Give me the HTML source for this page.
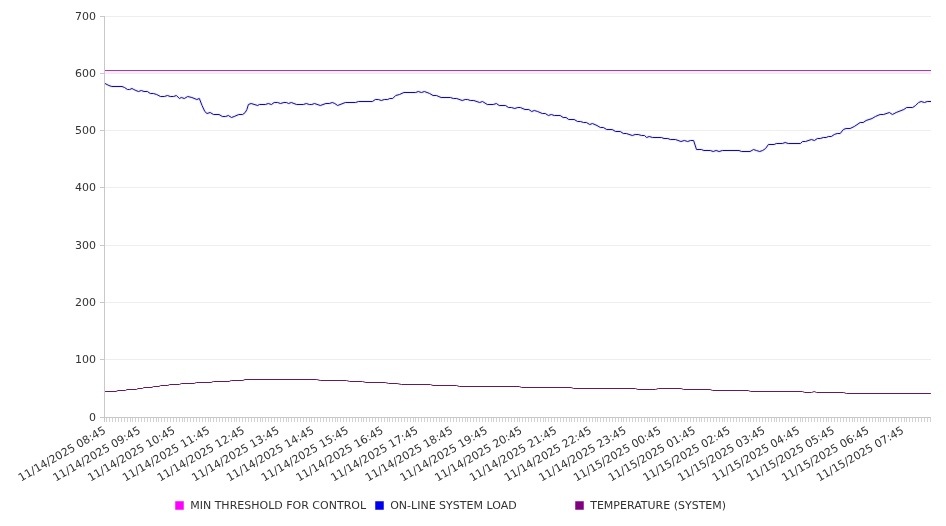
<!DOCTYPE html>
<html><head><meta charset="utf-8"><title>Chart</title>
<style>html,body{margin:0;padding:0;background:#fff}svg{display:block}text{font-family:"DejaVu Sans","Liberation Sans",sans-serif;font-size:11px;fill:#323232}</style></head>
<body>
<svg width="946" height="526" viewBox="0 0 946 526">
<rect width="946" height="526" fill="#fff"/>
<g stroke="#eeeeee" stroke-width="1" shape-rendering="crispEdges">
<line x1="105" x2="931" y1="359.5" y2="359.5"/>
<line x1="105" x2="931" y1="302.5" y2="302.5"/>
<line x1="105" x2="931" y1="245.5" y2="245.5"/>
<line x1="105" x2="931" y1="187.5" y2="187.5"/>
<line x1="105" x2="931" y1="130.5" y2="130.5"/>
<line x1="105" x2="931" y1="73.5" y2="73.5"/>
<line x1="105" x2="931" y1="16.5" y2="16.5"/>
</g>
<g stroke="#c8c8c8" stroke-width="1" shape-rendering="crispEdges">
<line x1="104.5" x2="104.5" y1="16" y2="422"/>
<line x1="104" x2="931" y1="417.5" y2="417.5"/>
<line x1="100" x2="104" y1="417.5" y2="417.5"/>
<line x1="100" x2="104" y1="359.5" y2="359.5"/>
<line x1="100" x2="104" y1="302.5" y2="302.5"/>
<line x1="100" x2="104" y1="245.5" y2="245.5"/>
<line x1="100" x2="104" y1="187.5" y2="187.5"/>
<line x1="100" x2="104" y1="130.5" y2="130.5"/>
<line x1="100" x2="104" y1="73.5" y2="73.5"/>
<line x1="100" x2="104" y1="16.5" y2="16.5"/>
<path d="M106.5 418v4M109.5 418v4M112.5 418v4M115.5 418v4M118.5 418v4M121.5 418v4M124.5 418v4M127.5 418v4M130.5 418v4M132.5 418v4M135.5 418v4M138.5 418v4M141.5 418v4M144.5 418v4M147.5 418v4M150.5 418v4M153.5 418v4M156.5 418v4M158.5 418v4M161.5 418v4M164.5 418v4M167.5 418v4M170.5 418v4M173.5 418v4M176.5 418v4M179.5 418v4M182.5 418v4M184.5 418v4M187.5 418v4M190.5 418v4M193.5 418v4M196.5 418v4M199.5 418v4M202.5 418v4M205.5 418v4M208.5 418v4M210.5 418v4M213.5 418v4M216.5 418v4M219.5 418v4M222.5 418v4M225.5 418v4M228.5 418v4M231.5 418v4M234.5 418v4M236.5 418v4M239.5 418v4M242.5 418v4M245.5 418v4M248.5 418v4M251.5 418v4M254.5 418v4M257.5 418v4M260.5 418v4M262.5 418v4M265.5 418v4M268.5 418v4M271.5 418v4M274.5 418v4M277.5 418v4M280.5 418v4M283.5 418v4M286.5 418v4M288.5 418v4M291.5 418v4M294.5 418v4M297.5 418v4M300.5 418v4M303.5 418v4M306.5 418v4M309.5 418v4M311.5 418v4M314.5 418v4M317.5 418v4M320.5 418v4M323.5 418v4M326.5 418v4M329.5 418v4M332.5 418v4M335.5 418v4M337.5 418v4M340.5 418v4M343.5 418v4M346.5 418v4M349.5 418v4M352.5 418v4M355.5 418v4M358.5 418v4M361.5 418v4M363.5 418v4M366.5 418v4M369.5 418v4M372.5 418v4M375.5 418v4M378.5 418v4M381.5 418v4M384.5 418v4M387.5 418v4M389.5 418v4M392.5 418v4M395.5 418v4M398.5 418v4M401.5 418v4M404.5 418v4M407.5 418v4M410.5 418v4M413.5 418v4M415.5 418v4M418.5 418v4M421.5 418v4M424.5 418v4M427.5 418v4M430.5 418v4M433.5 418v4M436.5 418v4M439.5 418v4M441.5 418v4M444.5 418v4M447.5 418v4M450.5 418v4M453.5 418v4M456.5 418v4M459.5 418v4M462.5 418v4M465.5 418v4M467.5 418v4M470.5 418v4M473.5 418v4M476.5 418v4M479.5 418v4M482.5 418v4M485.5 418v4M488.5 418v4M491.5 418v4M493.5 418v4M496.5 418v4M499.5 418v4M502.5 418v4M505.5 418v4M508.5 418v4M511.5 418v4M514.5 418v4M517.5 418v4M519.5 418v4M522.5 418v4M525.5 418v4M528.5 418v4M531.5 418v4M534.5 418v4M537.5 418v4M540.5 418v4M543.5 418v4M545.5 418v4M548.5 418v4M551.5 418v4M554.5 418v4M557.5 418v4M560.5 418v4M563.5 418v4M566.5 418v4M569.5 418v4M571.5 418v4M574.5 418v4M577.5 418v4M580.5 418v4M583.5 418v4M586.5 418v4M589.5 418v4M592.5 418v4M595.5 418v4M597.5 418v4M600.5 418v4M603.5 418v4M606.5 418v4M609.5 418v4M612.5 418v4M615.5 418v4M618.5 418v4M621.5 418v4M623.5 418v4M626.5 418v4M629.5 418v4M632.5 418v4M635.5 418v4M638.5 418v4M641.5 418v4M644.5 418v4M647.5 418v4M649.5 418v4M652.5 418v4M655.5 418v4M658.5 418v4M661.5 418v4M664.5 418v4M667.5 418v4M670.5 418v4M673.5 418v4M675.5 418v4M678.5 418v4M681.5 418v4M684.5 418v4M687.5 418v4M690.5 418v4M693.5 418v4M696.5 418v4M699.5 418v4M701.5 418v4M704.5 418v4M707.5 418v4M710.5 418v4M713.5 418v4M716.5 418v4M719.5 418v4M722.5 418v4M724.5 418v4M727.5 418v4M730.5 418v4M733.5 418v4M736.5 418v4M739.5 418v4M742.5 418v4M745.5 418v4M748.5 418v4M750.5 418v4M753.5 418v4M756.5 418v4M759.5 418v4M762.5 418v4M765.5 418v4M768.5 418v4M771.5 418v4M774.5 418v4M776.5 418v4M779.5 418v4M782.5 418v4M785.5 418v4M788.5 418v4M791.5 418v4M794.5 418v4M797.5 418v4M800.5 418v4M802.5 418v4M805.5 418v4M808.5 418v4M811.5 418v4M814.5 418v4M817.5 418v4M820.5 418v4M823.5 418v4M826.5 418v4M828.5 418v4M831.5 418v4M834.5 418v4M837.5 418v4M840.5 418v4M843.5 418v4M846.5 418v4M849.5 418v4M852.5 418v4M854.5 418v4M857.5 418v4M860.5 418v4M863.5 418v4M866.5 418v4M869.5 418v4M872.5 418v4M875.5 418v4M878.5 418v4M880.5 418v4M883.5 418v4M886.5 418v4M889.5 418v4M892.5 418v4M895.5 418v4M898.5 418v4M901.5 418v4M904.5 418v4M906.5 418v4M909.5 418v4M912.5 418v4M915.5 418v4M918.5 418v4M921.5 418v4M924.5 418v4M927.5 418v4M930.5 418v4" fill="none" stroke="#d2d2d2"/>
</g>
<g text-anchor="end">
<text x="96" y="420.60">0</text>
<text x="96" y="363.31">100</text>
<text x="96" y="306.03">200</text>
<text x="96" y="248.74">300</text>
<text x="96" y="191.46">400</text>
<text x="96" y="134.17">500</text>
<text x="96" y="76.89">600</text>
<text x="96" y="19.60">700</text>
</g>
<g text-anchor="end">
<text transform="translate(106.50,432.4) rotate(-30)">11/14/2025 08:45</text>
<text transform="translate(141.20,432.4) rotate(-30)">11/14/2025 09:45</text>
<text transform="translate(175.90,432.4) rotate(-30)">11/14/2025 10:45</text>
<text transform="translate(210.60,432.4) rotate(-30)">11/14/2025 11:45</text>
<text transform="translate(245.30,432.4) rotate(-30)">11/14/2025 12:45</text>
<text transform="translate(280.00,432.4) rotate(-30)">11/14/2025 13:45</text>
<text transform="translate(314.70,432.4) rotate(-30)">11/14/2025 14:45</text>
<text transform="translate(349.40,432.4) rotate(-30)">11/14/2025 15:45</text>
<text transform="translate(384.10,432.4) rotate(-30)">11/14/2025 16:45</text>
<text transform="translate(418.80,432.4) rotate(-30)">11/14/2025 17:45</text>
<text transform="translate(453.50,432.4) rotate(-30)">11/14/2025 18:45</text>
<text transform="translate(488.20,432.4) rotate(-30)">11/14/2025 19:45</text>
<text transform="translate(522.90,432.4) rotate(-30)">11/14/2025 20:45</text>
<text transform="translate(557.60,432.4) rotate(-30)">11/14/2025 21:45</text>
<text transform="translate(592.30,432.4) rotate(-30)">11/14/2025 22:45</text>
<text transform="translate(627.00,432.4) rotate(-30)">11/14/2025 23:45</text>
<text transform="translate(661.70,432.4) rotate(-30)">11/15/2025 00:45</text>
<text transform="translate(696.40,432.4) rotate(-30)">11/15/2025 01:45</text>
<text transform="translate(731.10,432.4) rotate(-30)">11/15/2025 02:45</text>
<text transform="translate(765.80,432.4) rotate(-30)">11/15/2025 03:45</text>
<text transform="translate(800.50,432.4) rotate(-30)">11/15/2025 04:45</text>
<text transform="translate(835.20,432.4) rotate(-30)">11/15/2025 05:45</text>
<text transform="translate(869.90,432.4) rotate(-30)">11/15/2025 06:45</text>
<text transform="translate(904.60,432.4) rotate(-30)">11/15/2025 07:45</text>
</g>
<g shape-rendering="crispEdges"><rect x="105" y="71" width="826" height="2" fill="#fdecfd"/><rect x="105" y="73" width="826" height="1" fill="#f4eaf3"/><rect x="105" y="70" width="826" height="1" fill="#a23ca2"/></g>
<polyline points="105.07,83.5 108.9,85.5 111.8,86.5 122,86.5 124.5,87.5 127.5,89.5 129.6,89.5 132,88.5 133.8,89.5 135.9,90.5 138.5,91.5 141.3,90.5 144,91.5 147.4,91.5 150.3,93.5 153.3,93.5 156.7,94.5 160.5,96.5 164.3,96.5 167.5,95.5 170.2,96.5 173.6,96.5 176.4,95.5 179.4,98.5 181.3,97.5 184.3,98.5 187.7,96.5 191.9,97.5 196.8,99.5 199.35,98.5 202.06,105.5 204.8,111.5 207,113.5 210.1,112.5 213.5,114.5 219,114.5 222.4,116.5 225.7,116.5 228.3,115.5 231.5,117.5 234.2,116.5 238.85,114.5 242.65,114.5 245.2,112.5 246.9,109.5 248.4,104.5 251.1,103.5 257.7,105.5 259.4,104.5 265.3,104.5 268.3,103.5 271.4,104.5 274.2,102.5 277.6,102.5 280.5,103.5 283.9,102.5 286.4,102.5 288.55,103.5 291.3,102.5 296.6,104.5 303.35,104.5 306.3,103.5 309.3,104.5 311.8,104.5 314.5,103.5 320.3,105.5 325.9,103.5 329.3,103.5 332.26,102.5 334.8,103.5 337.6,105.5 345.4,102.5 355.5,102.5 358.5,101.5 372.4,101.5 375.4,99.5 378.35,99.5 381.3,100.5 384.3,99.5 387.65,99.5 389.8,98.5 392.7,98.5 395.7,95.5 399.5,94.5 403.9,92.5 415.7,92.5 418.26,91.5 421.4,92.5 424.4,91.5 429.7,93.5 433.05,95.5 436.4,95.5 441.1,97.5 450.4,97.5 453.35,98.5 456.7,98.5 462.2,100.5 465.2,99.5 467.7,99.5 470.3,100.5 473.8,100.5 479.7,102.5 482.5,101.5 487.3,104.5 493.26,104.5 496.4,103.5 499.2,105.5 505.5,105.5 508.5,107.5 511.4,107.5 514.8,108.5 517.8,107.5 520.3,107.5 525,109.5 528.8,109.5 531.7,111.5 534.3,110.5 537.65,111.5 542.3,113.5 545.26,113.5 548.4,115.5 551.3,114.5 554.3,115.5 560.2,115.5 563.2,117.5 566.1,117.5 568.7,119.5 574.2,119.5 577.6,121.5 580.5,121.5 583.5,122.5 586.4,122.5 589.8,124.5 592.4,123.5 597,125.5 600.4,127.5 603.35,127.5 606.7,129.5 612.2,129.5 615.6,131.5 620.26,131.5 623.4,133.5 626.3,133.5 632.3,135.5 635.2,134.5 638.2,134.5 641.6,135.5 644.5,135.5 646.6,137.5 649.2,136.5 652.6,137.5 661.4,137.5 664,138.5 667.8,138.5 670.3,139.5 675.4,139.5 680.9,141.5 684.3,140.5 687.65,141.5 690.6,140.5 693.6,140.5 696.5,149.5 701.3,149.5 703.9,150.5 710.2,150.5 713.2,151.5 716.1,150.5 719.1,151.5 722.5,150.5 739,150.5 741.5,151.5 750,151.5 753.6,149.5 756.3,150.5 759.7,151.5 762.65,150.5 765.6,148.5 768.4,144.5 774.2,144.5 776.3,143.5 782.3,143.5 785.2,142.5 788.2,143.5 800.4,143.5 802.6,141.5 805.5,141.5 811.4,139.5 814.4,140.5 817.4,138.5 820.3,138.5 823.3,137.5 826.2,137.5 828.35,136.5 831.3,136.5 834.3,134.5 837.2,133.5 840.2,133.5 843.4,129.5 846.1,128.5 850.1,128.5 854.3,126.5 860.2,122.5 863.2,122.5 866.1,120.5 872.1,118.5 875.4,116.5 880.1,114.5 883.5,114.5 889.4,112.5 892.4,114.5 896.2,112.5 903.8,109.5 906.7,107.5 912.65,107.5 915.6,105.5 918.6,102.5 921.1,101.5 924.5,102.5 927.2,101.5 931,101.5" fill="none" stroke="#0000ff" stroke-opacity="0.07" stroke-width="3" stroke-linejoin="round"/>
<polyline points="105.07,83.5 108.9,85.5 111.8,86.5 122,86.5 124.5,87.5 127.5,89.5 129.6,89.5 132,88.5 133.8,89.5 135.9,90.5 138.5,91.5 141.3,90.5 144,91.5 147.4,91.5 150.3,93.5 153.3,93.5 156.7,94.5 160.5,96.5 164.3,96.5 167.5,95.5 170.2,96.5 173.6,96.5 176.4,95.5 179.4,98.5 181.3,97.5 184.3,98.5 187.7,96.5 191.9,97.5 196.8,99.5 199.35,98.5 202.06,105.5 204.8,111.5 207,113.5 210.1,112.5 213.5,114.5 219,114.5 222.4,116.5 225.7,116.5 228.3,115.5 231.5,117.5 234.2,116.5 238.85,114.5 242.65,114.5 245.2,112.5 246.9,109.5 248.4,104.5 251.1,103.5 257.7,105.5 259.4,104.5 265.3,104.5 268.3,103.5 271.4,104.5 274.2,102.5 277.6,102.5 280.5,103.5 283.9,102.5 286.4,102.5 288.55,103.5 291.3,102.5 296.6,104.5 303.35,104.5 306.3,103.5 309.3,104.5 311.8,104.5 314.5,103.5 320.3,105.5 325.9,103.5 329.3,103.5 332.26,102.5 334.8,103.5 337.6,105.5 345.4,102.5 355.5,102.5 358.5,101.5 372.4,101.5 375.4,99.5 378.35,99.5 381.3,100.5 384.3,99.5 387.65,99.5 389.8,98.5 392.7,98.5 395.7,95.5 399.5,94.5 403.9,92.5 415.7,92.5 418.26,91.5 421.4,92.5 424.4,91.5 429.7,93.5 433.05,95.5 436.4,95.5 441.1,97.5 450.4,97.5 453.35,98.5 456.7,98.5 462.2,100.5 465.2,99.5 467.7,99.5 470.3,100.5 473.8,100.5 479.7,102.5 482.5,101.5 487.3,104.5 493.26,104.5 496.4,103.5 499.2,105.5 505.5,105.5 508.5,107.5 511.4,107.5 514.8,108.5 517.8,107.5 520.3,107.5 525,109.5 528.8,109.5 531.7,111.5 534.3,110.5 537.65,111.5 542.3,113.5 545.26,113.5 548.4,115.5 551.3,114.5 554.3,115.5 560.2,115.5 563.2,117.5 566.1,117.5 568.7,119.5 574.2,119.5 577.6,121.5 580.5,121.5 583.5,122.5 586.4,122.5 589.8,124.5 592.4,123.5 597,125.5 600.4,127.5 603.35,127.5 606.7,129.5 612.2,129.5 615.6,131.5 620.26,131.5 623.4,133.5 626.3,133.5 632.3,135.5 635.2,134.5 638.2,134.5 641.6,135.5 644.5,135.5 646.6,137.5 649.2,136.5 652.6,137.5 661.4,137.5 664,138.5 667.8,138.5 670.3,139.5 675.4,139.5 680.9,141.5 684.3,140.5 687.65,141.5 690.6,140.5 693.6,140.5 696.5,149.5 701.3,149.5 703.9,150.5 710.2,150.5 713.2,151.5 716.1,150.5 719.1,151.5 722.5,150.5 739,150.5 741.5,151.5 750,151.5 753.6,149.5 756.3,150.5 759.7,151.5 762.65,150.5 765.6,148.5 768.4,144.5 774.2,144.5 776.3,143.5 782.3,143.5 785.2,142.5 788.2,143.5 800.4,143.5 802.6,141.5 805.5,141.5 811.4,139.5 814.4,140.5 817.4,138.5 820.3,138.5 823.3,137.5 826.2,137.5 828.35,136.5 831.3,136.5 834.3,134.5 837.2,133.5 840.2,133.5 843.4,129.5 846.1,128.5 850.1,128.5 854.3,126.5 860.2,122.5 863.2,122.5 866.1,120.5 872.1,118.5 875.4,116.5 880.1,114.5 883.5,114.5 889.4,112.5 892.4,114.5 896.2,112.5 903.8,109.5 906.7,107.5 912.65,107.5 915.6,105.5 918.6,102.5 921.1,101.5 924.5,102.5 927.2,101.5 931,101.5" fill="none" stroke="#14108c" stroke-width="1" stroke-linejoin="round"/>
<polyline points="105.07,391.5 116,391.5 118,390.5 125.4,390.5 127,389.5 136.5,389.5 138,388.5 142.4,388.5 143.9,387.5 152,387.5 153.3,386.5 159,386.5 160.6,385.5 167.9,385.5 169.8,384.5 179.6,384.5 181.2,383.5 194.2,383.5 196.3,382.5 211.1,382.5 213.3,381.5 229.1,381.5 231.2,380.5 242.9,380.5 245,379.5 316.8,379.5 320.2,380.5 346.4,380.5 349.8,381.5 362.5,381.5 365.9,382.5 385.3,382.5 388.7,383.5 397.1,383.5 401.4,384.5 430.4,384.5 433,385.5 456.7,385.5 459.2,386.5 519.2,386.5 521.8,387.5 571.1,387.5 573.7,388.5 635.4,388.5 637.9,389.5 655.7,389.5 658.2,388.5 681.1,388.5 683.6,389.5 710.1,389.5 712.7,390.5 748.2,390.5 750.7,391.5 802.3,391.5 804.9,392.5 811.6,392.5 814.2,391.5 816.7,392.5 843.8,392.5 846.3,393.5 930.9,393.5" fill="none" stroke="#641a60" stroke-width="1" stroke-linejoin="round"/>
<rect x="175.25" y="501.25" width="8.5" height="8.5" fill="#ff00ff"/>
<text x="190.2" y="509.4">MIN THRESHOLD FOR CONTROL</text>
<rect x="375.25" y="501.25" width="8.5" height="8.5" fill="#0000ee"/>
<text x="390.2" y="509.4">ON-LINE SYSTEM LOAD</text>
<rect x="575.25" y="501.25" width="8.5" height="8.5" fill="#800080"/>
<text x="590.2" y="509.4">TEMPERATURE (SYSTEM)</text>
</svg>
</body></html>
